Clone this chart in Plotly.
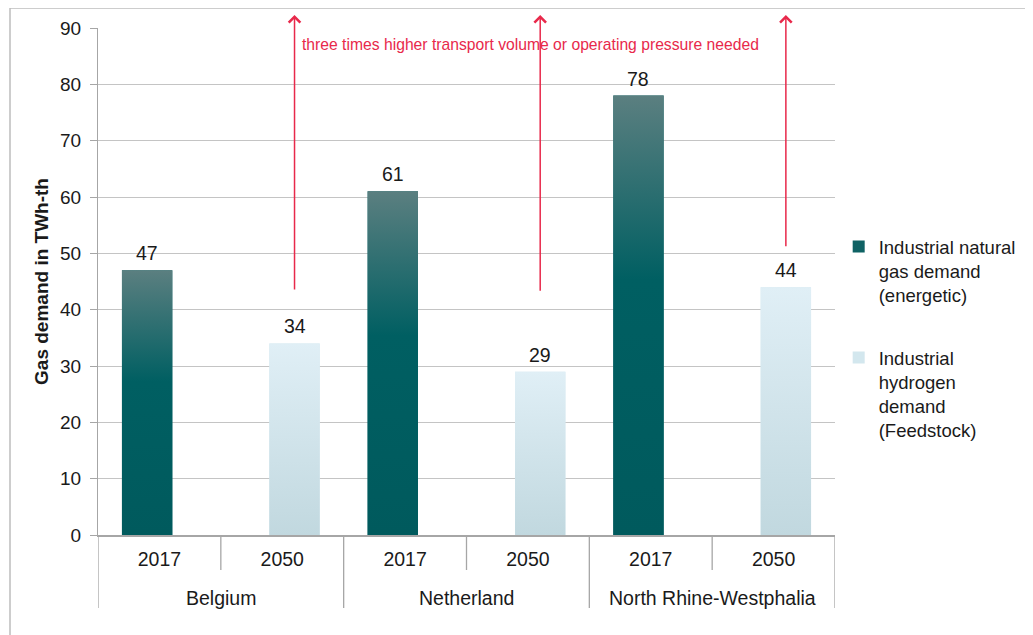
import plotly.graph_objects as go

countries = ["Belgium", "Netherland", "North Rhine-Westphalia"]
years = ["2017", "2050"]
natural_gas = [47, 61, 78]      # 2017, industrial natural gas demand (energetic)
hydrogen = [34, 29, 44]         # 2050, industrial hydrogen demand (feedstock)
arrow_base = [43.3, 43.1, 51.0]
arrow_tip = 92.3
y_ticks = [0, 10, 20, 30, 40, 50, 60, 70, 80, 90]
note = "three times higher transport volume or operating pressure needed"

FONT = "Arial, Liberation Sans, sans-serif"
DARK = "#0f6264"
LIGHT = "#d3e7ee"
RED = "#e8294b"
GRID = "#c4c4c4"
AXIS = "#a6a6a6"
TXT = "#1a1a1a"

n_years = len(years)
cat_labels = [y for _ in countries for y in years]
cat_pos = list(range(len(cat_labels)))
ng_x = [i * n_years for i in range(len(countries))]
h_x = [i * n_years + 1 for i in range(len(countries))]

BW = 0.41          # bar width in category units
SHIFT = 0.1        # series slot shift inside a category (grouped layout with an empty slot)

fig = go.Figure()
fig.add_trace(go.Bar(
    x=ng_x, y=natural_gas, width=BW, offset=-SHIFT - BW / 2,
    name="Industrial natural<br>gas demand<br>(energetic)",
    marker=dict(color=DARK, line=dict(width=0)), legend="legend", hoverinfo="y",
))
fig.add_trace(go.Bar(
    x=h_x, y=hydrogen, width=BW, offset=SHIFT - BW / 2,
    name="Industrial<br>hydrogen<br>demand<br>(Feedstock)",
    marker=dict(color=LIGHT, line=dict(width=0)), legend="legend2", hoverinfo="y",
))

# vertical gradient fills over the bars
dark_scale = [[0, "#005a5d"], [0.58, "#005f62"], [1, "#5b7f80"]]
light_scale = [[0, "#c1d8df"], [1, "#e0eff6"]]
annotations = []
for xs, vals, sh, scale in ((ng_x, natural_gas, -SHIFT, dark_scale), (h_x, hydrogen, SHIFT, light_scale)):
    for xi, v in zip(xs, vals):
        xc = xi + sh
        fig.add_trace(go.Scatter(
            x=[xc - BW / 2, xc + BW / 2, xc + BW / 2, xc - BW / 2, xc - BW / 2],
            y=[0, 0, v, v, 0], mode="lines", line=dict(width=0), fill="toself",
            fillgradient=dict(type="vertical", colorscale=scale, start=0, stop=v),
            showlegend=False, hoverinfo="skip",
        ))
        annotations.append(dict(x=xc, y=v, xref="x", yref="y", text=str(v), showarrow=False,
                                yanchor="middle", yshift=17,
                                font=dict(size=19.5, color=TXT, family=FONT)))

for i, b in zip(h_x, arrow_base):
    xa = i + SHIFT
    annotations.append(dict(
        x=xa, y=arrow_tip, xref="x", yref="y", ax=xa, ay=b, axref="x", ayref="y",
        text="", showarrow=True, arrowhead=4, arrowsize=1.5, arrowwidth=1.5, arrowcolor=RED,
    ))
annotations.append(dict(
    x=3.025, y=87, xref="x", yref="y", text=note, showarrow=False,
    font=dict(size=15.7, color=RED, family=FONT),
))

# two-level category axis: year separators and country dividers
PLOT_H = 507
shapes = []
for k in range(len(countries)):
    for j in range(1, n_years):
        xb = k * n_years + j - 0.5
        shapes.append(dict(type="line", xref="x", yref="paper", x0=xb, x1=xb, y0=0, y1=-35 / PLOT_H,
                           line=dict(color=AXIS, width=1.3)))
for k in range(len(countries) + 1):
    xb = k * n_years - 0.5
    shapes.append(dict(type="line", xref="x", yref="paper", x0=xb, x1=xb, y0=0, y1=-73 / PLOT_H,
                       line=dict(color=AXIS, width=1.3)))
for k, c in enumerate(countries):
    annotations.append(dict(x=k * n_years + (n_years - 1) / 2, y=-63 / PLOT_H, xref="x", yref="paper",
                            text=c, showarrow=False, yanchor="middle",
                            font=dict(size=19.5, color=TXT, family=FONT)))

# outer chart frame
shapes.append(dict(type="rect", xref="paper", yref="paper", x0=-0.1194, x1=1.35, y0=-0.35, y1=1.0394,
                   line=dict(color="#bdbdbd", width=1.5), layer="below"))

fig.update_layout(
    width=1025, height=627,
    margin=dict(l=90, r=198, t=20, b=100),
    paper_bgcolor="white", plot_bgcolor="white",
    barmode="overlay",
    font=dict(family=FONT, size=19, color=TXT),
    xaxis=dict(
        range=[-0.5, len(cat_labels) - 0.5], tickvals=cat_pos, ticktext=cat_labels,
        showline=True, linecolor=AXIS, linewidth=1.5, ticks="", showgrid=False, zeroline=False,
        tickfont=dict(size=19.5, color=TXT, family=FONT), ticklabelstandoff=6, automargin=False,
        fixedrange=True,
    ),
    yaxis=dict(
        range=[0, 90], tickvals=y_ticks, showgrid=True, gridcolor=GRID, gridwidth=1.3,
        showline=True, linecolor=AXIS, linewidth=1.3, ticks="outside", ticklen=7,
        tickcolor=AXIS, zeroline=False, tickfont=dict(size=19, color=TXT, family=FONT),
        ticklabelstandoff=5, automargin=False, fixedrange=True,
        title=dict(text="<b>Gas demand in TWh-th</b>", font=dict(size=19, color=TXT, family=FONT), standoff=6),
    ),
    legend=dict(x=1.005, y=0.6055, xanchor="left", yanchor="top", valign="top",
                font=dict(size=18.5, color=TXT, family=FONT), bgcolor="rgba(0,0,0,0)"),
    legend2=dict(x=1.005, y=0.3866, xanchor="left", yanchor="top", valign="top",
                 font=dict(size=18.5, color=TXT, family=FONT), bgcolor="rgba(0,0,0,0)"),
    annotations=annotations,
    shapes=shapes,
    showlegend=True,
)

fig.write_html("out.html")
